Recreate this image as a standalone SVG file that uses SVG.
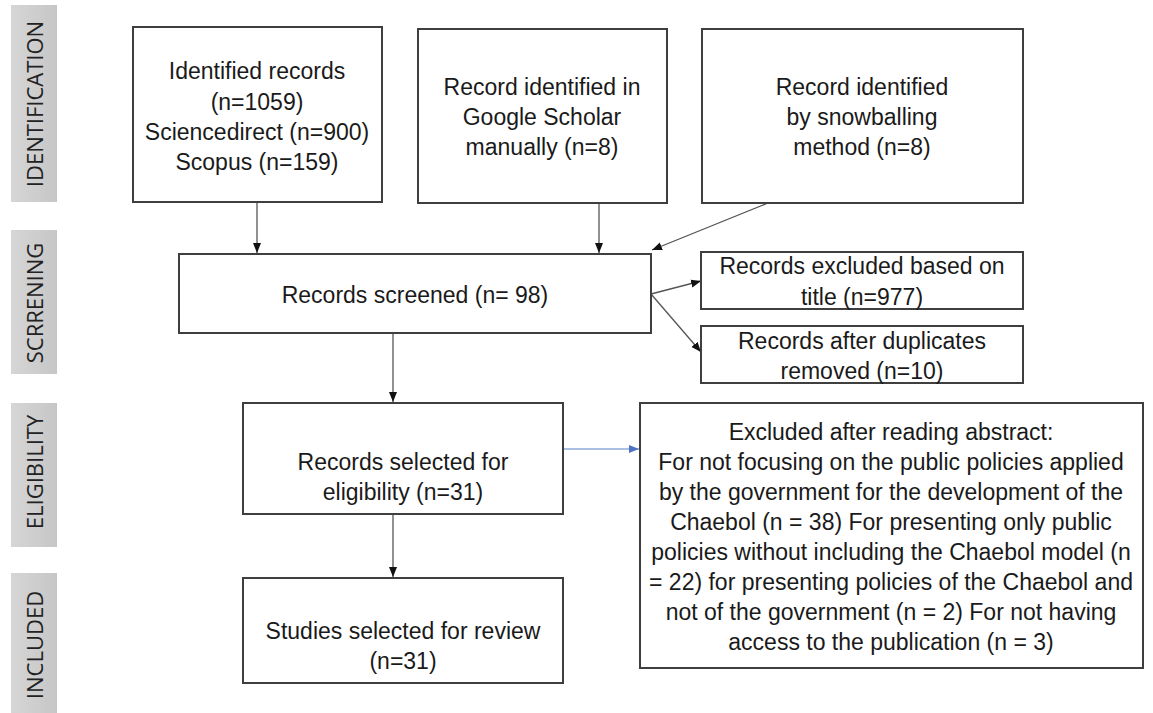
<svg xmlns="http://www.w3.org/2000/svg" width="1153" height="713" viewBox="0 0 1153 713">
<style>
.box{fill:#fff;stroke:#3f3f3f;stroke-width:2}
.t{font-family:"Liberation Sans",Arial,sans-serif;font-size:23px;fill:#1a1a1a;text-anchor:middle;dominant-baseline:central}
.side{fill:url(#sg)}
.st{font-family:"Open Sans","Liberation Sans",sans-serif;font-size:22px;fill:#222;text-anchor:middle;dominant-baseline:central}
.c{stroke:#555;stroke-width:1.3;fill:none;marker-end:url(#ah)}
.cb{stroke:#8faadc;stroke-width:1.5;fill:none;marker-end:url(#ahb)}
</style>
<defs>
<linearGradient id="sg" x1="0" y1="0" x2="1" y2="0">
<stop offset="0" stop-color="#d6d6d6"/>
<stop offset="1" stop-color="#c6c6c6"/>
</linearGradient>
<marker id="ah" markerUnits="userSpaceOnUse" markerWidth="10" markerHeight="10" viewBox="0 0 10 10" refX="10" refY="5" orient="auto">
<path d="M0,1 L10,5 L0,9 Z" fill="#111"/>
</marker>
<marker id="ahb" markerUnits="userSpaceOnUse" markerWidth="10" markerHeight="10" viewBox="0 0 10 10" refX="10" refY="5" orient="auto">
<path d="M0,1 L10,5 L0,9 Z" fill="#4f72c4"/>
</marker>
</defs>
<rect width="1153" height="713" fill="#fff"/>

<g id="side-identification"><rect class="side" x="11" y="5" width="46" height="197"/><text class="st" transform="translate(34,104) rotate(-90)">IDENTIFICATION</text></g>
<g id="side-screening"><rect class="side" x="11" y="230" width="46" height="144"/><text class="st" transform="translate(34,303) rotate(-90)">SCRRENING</text></g>
<g id="side-eligibility"><rect class="side" x="11" y="403" width="46" height="144"/><text class="st" transform="translate(34,472) rotate(-90)">ELIGIBILITY</text></g>
<g id="side-included"><rect class="side" x="11" y="573" width="46" height="140"/><text class="st" transform="translate(34,645) rotate(-90)">INCLUDED</text></g>

<g id="connectors">
<line class="c" x1="257" y1="202" x2="257" y2="253"/>
<line class="c" x1="599" y1="203" x2="599" y2="253"/>
<line class="c" x1="768" y1="203" x2="652" y2="250"/>
<line class="c" x1="651" y1="294" x2="701" y2="281"/>
<line class="c" x1="651" y1="294" x2="701" y2="352"/>
<line class="c" x1="393" y1="333" x2="393" y2="402"/>
<line class="c" x1="393" y1="514" x2="393" y2="577"/>
<line class="cb" x1="563" y1="449" x2="639" y2="449"/>
</g>

<g id="identified">
<rect class="box" x="133" y="27" width="249" height="175"/>
<text class="t" x="257" y="71">Identified records</text>
<text class="t" x="257" y="102">(n=1059)</text>
<text class="t" x="257" y="132">Sciencedirect (n=900)</text>
<text class="t" x="257" y="162">Scopus (n=159)</text>
</g>
<g id="google-scholar">
<rect class="box" x="418" y="29" width="249" height="174"/>
<text class="t" x="542" y="87">Record identified in</text>
<text class="t" x="542" y="117">Google Scholar</text>
<text class="t" x="542" y="147">manually (n=8)</text>
</g>
<g id="snowballing">
<rect class="box" x="702" y="29" width="321" height="174"/>
<text class="t" x="862" y="87">Record identified</text>
<text class="t" x="862" y="117">by snowballing</text>
<text class="t" x="862" y="147">method (n=8)</text>
</g>
<g id="screened">
<rect class="box" x="179" y="254" width="472" height="79"/>
<text class="t" x="415" y="295">Records screened (n= 98)</text>
</g>
<g id="excluded-title">
<rect class="box" x="701" y="252" width="322" height="57"/>
<text class="t" x="862" y="266">Records excluded based on</text>
<text class="t" x="862" y="297">title (n=977)</text>
</g>
<g id="duplicates">
<rect class="box" x="701" y="326" width="322" height="57"/>
<text class="t" x="862" y="341">Records after duplicates</text>
<text class="t" x="862" y="371">removed (n=10)</text>
</g>
<g id="eligibility">
<rect class="box" x="243" y="403" width="320" height="111"/>
<text class="t" x="403" y="462">Records selected for</text>
<text class="t" x="403" y="492">eligibility (n=31)</text>
</g>
<g id="studies">
<rect class="box" x="243" y="578" width="320" height="105"/>
<text class="t" x="403" y="631">Studies selected for review</text>
<text class="t" x="403" y="661">(n=31)</text>
</g>
<g id="excluded-abstract">
<rect class="box" x="640" y="403" width="503" height="265"/>
<text class="t" x="891" y="432">Excluded after reading abstract:</text>
<text class="t" x="891" y="462">For not focusing on the public policies applied</text>
<text class="t" x="891" y="492">by the government for the development of the</text>
<text class="t" x="891" y="522">Chaebol (n = 38) For presenting only public</text>
<text class="t" x="891" y="552">policies without including the Chaebol model (n</text>
<text class="t" x="891" y="582">= 22) for presenting policies of the Chaebol and</text>
<text class="t" x="891" y="612">not of the government (n = 2) For not having</text>
<text class="t" x="891" y="642">access to the publication (n = 3)</text>
</g>
</svg>
